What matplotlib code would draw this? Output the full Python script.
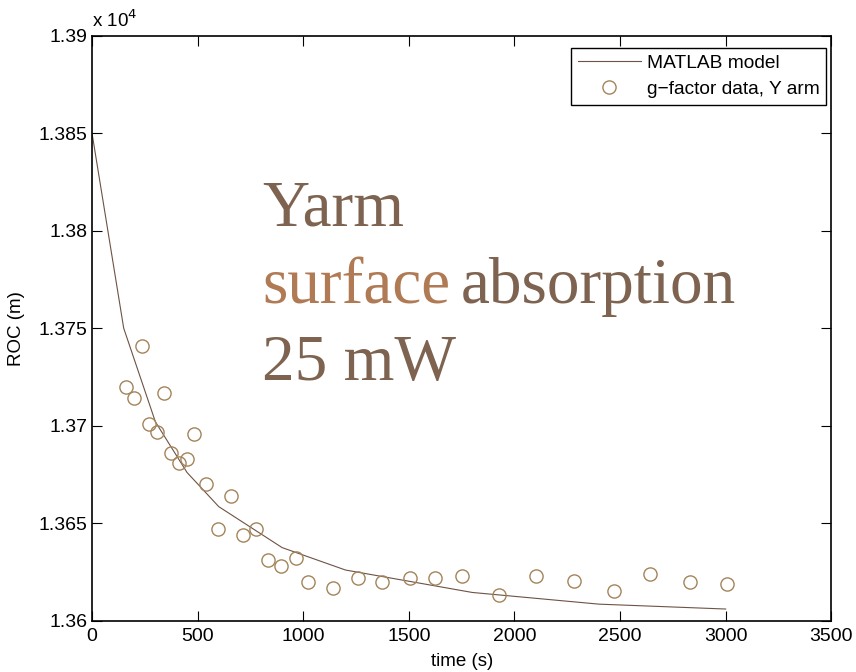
import numpy as np
import matplotlib.pyplot as plt
from matplotlib.ticker import FuncFormatter

# modelo (MATLAB)
t_modelo = [0, 150, 300, 450, 600, 900, 1200, 1800, 2400, 3000]
roc_modelo = [13850, 13750, 13702, 13676, 13658.5, 13637.5, 13626, 13614.5, 13608.5, 13606]

# dados g-factor, braço Y
t_dados = [160, 199, 235, 270, 306, 342, 373, 412, 448, 481, 539, 597, 658,
           716, 776, 835, 895, 964, 1022, 1139, 1257, 1375, 1505, 1623,
           1751, 1927, 2104, 2281, 2469, 2644, 2833, 3005]
roc_dados = [13720, 13714, 13741, 13701, 13697, 13717, 13686, 13681, 13683,
             13696, 13670, 13647, 13664, 13644, 13647, 13631, 13628, 13632,
             13620, 13617, 13622, 13620, 13622, 13622, 13623, 13613, 13623,
             13620.5, 13615, 13624, 13620, 13619]

cor_linha = '#6e5245'
cor_circ = '#a3845a'

plt.rcParams['font.family'] = ['Liberation Sans', 'DejaVu Sans']

fig = plt.figure(figsize=(8.56, 6.72), dpi=100)
ax = fig.add_axes([0.1075, 0.0763, 0.8636, 0.8706])

ax.plot(t_modelo, roc_modelo, color=cor_linha, lw=0.8, label='MATLAB model')
ax.plot(t_dados, roc_dados, 'o', mfc='none', mec=cor_circ, ms=9.5, mew=1.0,
        label='g\u2212factor data, Y arm')

ax.set_xlim(0, 3500)
ax.set_ylim(13600, 13900)
ax.set_xticks(np.arange(0, 3501, 500))
ax.set_yticks(np.arange(13600, 13901, 50))
ax.yaxis.set_major_formatter(FuncFormatter(lambda v, p: f'{v/1e4:g}'))
ax.tick_params(direction='in', length=7, width=0.8, labelsize=14,
               top=True, right=True)
ax.tick_params(axis='x', pad=5)
ax.tick_params(axis='y', pad=3)
for s in ax.spines.values():
    s.set_linewidth(1.2)

ax.set_xlabel('time (s)', fontsize=13.5, labelpad=6)
ax.set_ylabel('ROC (m)', fontsize=13.5, labelpad=10)
fig.text(92/856, 1 - 20/672, 'x 10$^{4}$', fontsize=13.5, va='center', ha='left')

ax.legend(loc='upper right', bbox_to_anchor=(826/856, 1 - 48/672),
          bbox_transform=fig.transFigure, borderaxespad=0, fontsize=13.8,
          fancybox=False, edgecolor='black', framealpha=1, handlelength=3.3,
          borderpad=0.35, labelspacing=0.45, handletextpad=0.3)

# texto anotado
serif = ['Liberation Serif', 'DejaVu Serif']
cor_txt = '#7d6350'
tam = 47
ax.text(0.23, 0.675, 'Yarm', transform=ax.transAxes, fontsize=tam,
        family=serif, color=cor_txt)
t1 = ax.text(0.23, 0.543, 'surface', transform=ax.transAxes, fontsize=tam,
             family=serif, color='#b07a55')
fig.canvas.draw()
bb = t1.get_window_extent().transformed(ax.transAxes.inverted())
ax.text(bb.x1 + 0.014, 0.543, 'absorption', transform=ax.transAxes,
        fontsize=tam, family=serif, color=cor_txt)
ax.text(0.23, 0.411, '25 mW', transform=ax.transAxes, fontsize=tam,
        family=serif, color=cor_txt)

fig.savefig('out.png', dpi=100)
